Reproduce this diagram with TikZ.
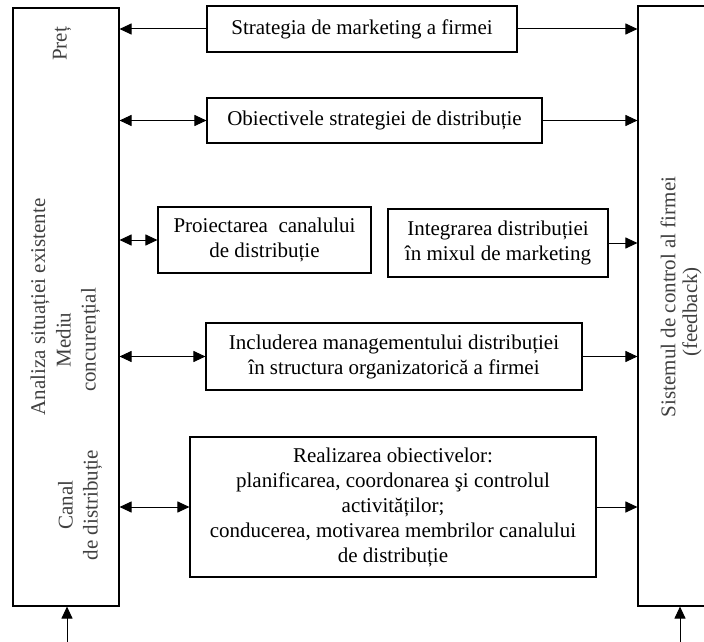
\documentclass[tikz,border=0pt]{standalone}
\usepackage{fontspec}
\setmainfont{Liberation Serif}
\usetikzlibrary{arrows.meta,positioning}

\tikzset{
  blockbox/.style={draw, line width=1.1pt, align=center, inner sep=2pt, font=\fontsize{21}{25}\selectfont},
  sidebox/.style={draw, line width=1.1pt},
  sidetext/.style={rotate=90, align=center, text=black!75, font=\fontsize{21}{25}\selectfont},
  flow/.style={line width=1pt, -{Triangle[length=12pt,width=11pt]}},
  twoway/.style={line width=1pt, {Triangle[length=12pt,width=11pt]}-{Triangle[length=12pt,width=11pt]}}
}

\begin{document}
\begin{tikzpicture}[x=1pt, y=-1pt]
    \useasboundingbox (0,0) rectangle (704,642);
    \clip (0,0) rectangle (704,642);

    % side columns
    \node [sidebox, minimum width=106pt, minimum height=598pt] (analysis) at (66,307) {};
    \node [sidebox, minimum width=80pt, minimum height=600pt] (control) at (678,306) {};

    \node [sidetext] (price) at (62,44) {Preț};
    \node [sidetext] (situation) at (40,307) {Analiza situației existente};
    \node [sidetext] (competition) at (78,340) {Mediu\\concurențial};
    \node [sidetext] (channel) at (80,505) {Canal\\de distribuție};
    \node [sidetext] (controltext) at (668,297) {Sistemul de control al firmei};
    \node [sidetext] (feedback) at (692,312) {(feedback)};

    % middle blocks
    \node [blockbox, minimum width=310pt, minimum height=46pt] (strategy) at (362,29) {Strategia de marketing a firmei};
    \node [blockbox, minimum width=335pt, minimum height=45pt] (objectives) at (374.5,120.5) {Obiectivele strategiei de distribuție};
    \node [blockbox, minimum width=213pt, minimum height=66pt] (design) at (264.5,240) {Proiectarea\ \ canalului\\de distribuție};
    \node [blockbox, minimum width=220pt, minimum height=68pt] (integration) at (498,243) {Integrarea distribuției\\în mixul de marketing};
    \node [blockbox, minimum width=376pt, minimum height=67pt] (management) at (394,356.5) {Includerea managementului distribuției\\în structura organizatorică a firmei};
    \node [blockbox, minimum width=406pt, minimum height=140pt] (goals) at (393,507) {Realizarea obiectivelor:\\planificarea, coordonarea şi controlul\\activităților;\\conducerea, motivarea membrilor canalului\\de distribuție};

    % connectors
    \draw [flow] (strategy.west) -- (strategy.west -| analysis.east);
    \draw [flow] (strategy.east) -- (strategy.east -| control.west);
    \draw [twoway] (objectives.west -| analysis.east) -- (objectives.west);
    \draw [flow] (objectives.east) -- (objectives.east -| control.west);
    \draw [twoway] (design.west -| analysis.east) -- (design.west);
    \draw [flow] (integration.east) -- (integration.east -| control.west);
    \draw [twoway] (management.west -| analysis.east) -- (management.west);
    \draw [flow] (management.east) -- (management.east -| control.west);
    \draw [twoway] (goals.west -| analysis.east) -- (goals.west);
    \draw [flow] (goals.east) -- (goals.east -| control.west);

    % inputs from below
    \coordinate (inleft) at (67,642);
    \coordinate (inright) at (680,642);
    \draw [flow] (inleft) -- (inleft |- analysis.south);
    \draw [flow] (inright) -- (inright |- control.south);
\end{tikzpicture}
\end{document}
